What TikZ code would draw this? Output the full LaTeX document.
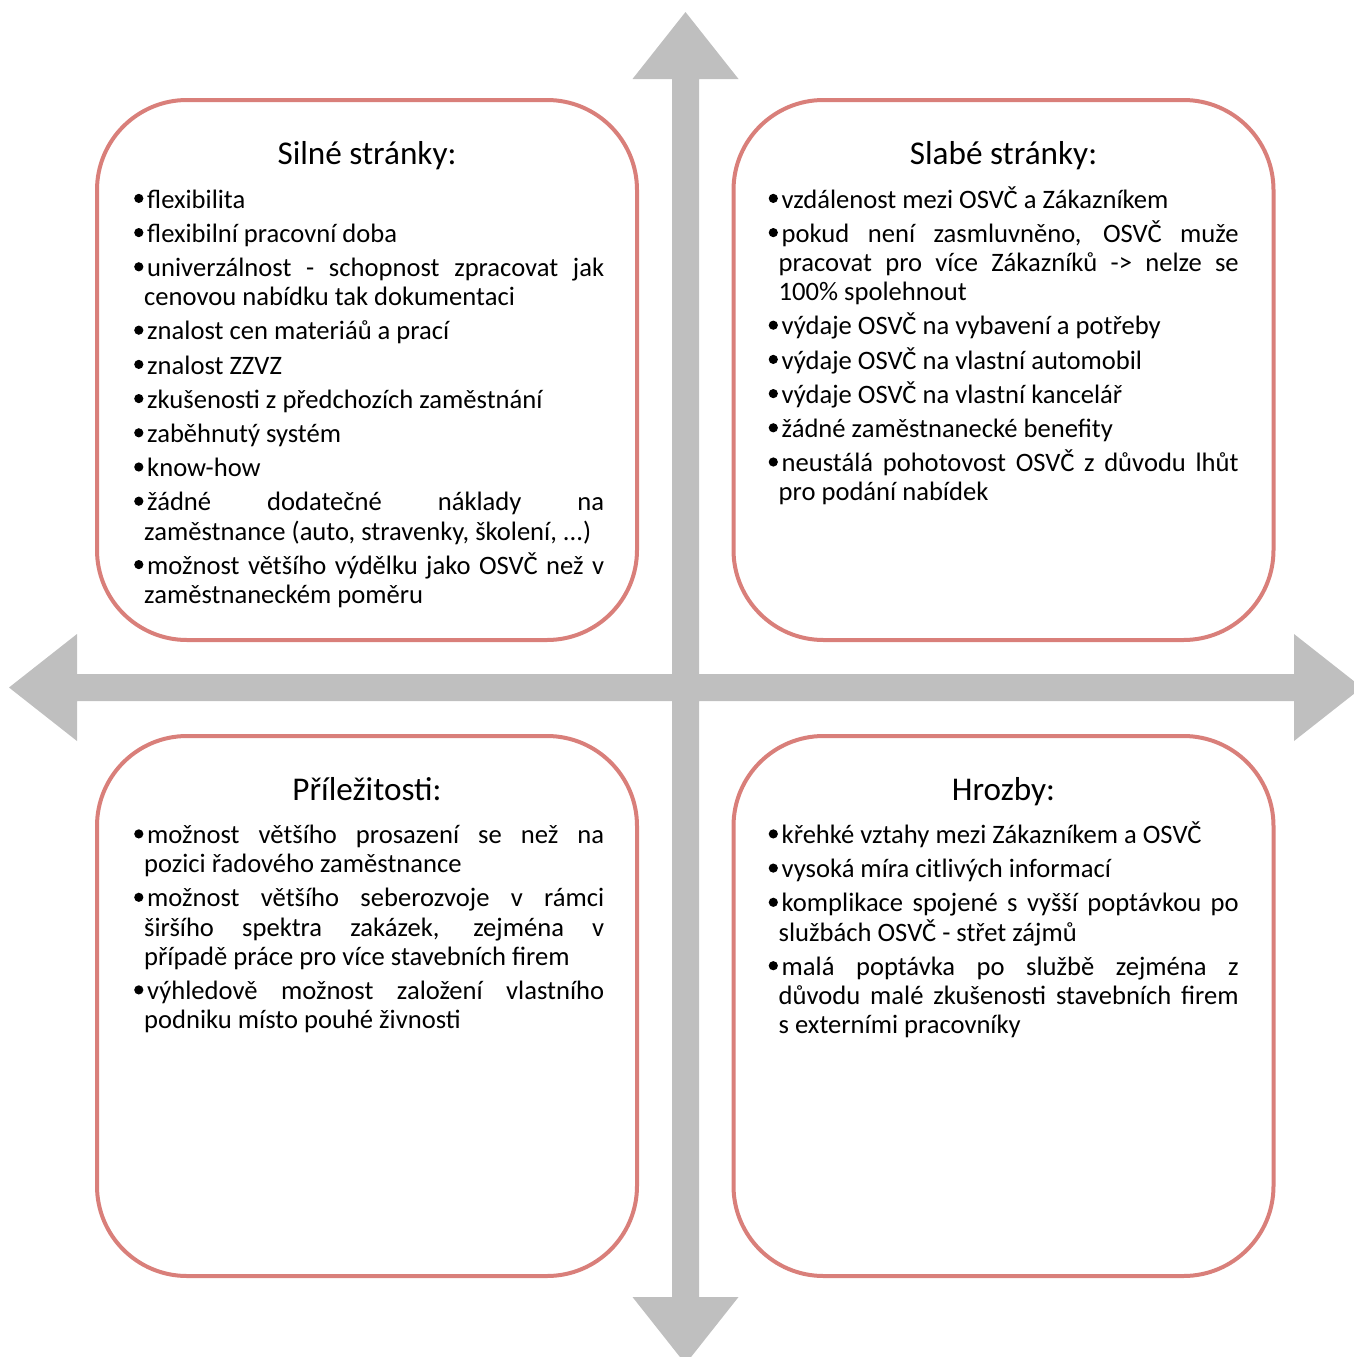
\documentclass[tikz,border=0pt]{standalone}
\usepackage{fontspec}
\setmainfont{Carlito}
\definecolor{boxred}{RGB}{217,127,122}
\definecolor{arrgray}{RGB}{191,191,191}
\newcommand\bdot{\tikz[baseline=0pt]\fill[black] (4.6pt,9.6pt) circle[radius=4.6pt];}
\newcommand\bul{\hangindent=14pt\hangafter=1\relax\makebox[17pt][l]{\hspace{4pt}\bdot}}
\newcommand\bodysetup{\hyphenpenalty=10000\exhyphenpenalty=10000\tolerance=10000\parskip=5pt plus 0pt minus 0pt\relax}
\begin{document}
\begin{tikzpicture}[x=1pt,y=-1pt,
  quad/.style={draw=boxred, line width=4pt, fill=white, rounded corners=90pt,
    minimum width=540pt, minimum height=540pt, inner sep=0pt},
  ttl/.style={font=\fontsize{33.2}{40}\selectfont, anchor=base, inner sep=0pt},
  body/.style={font=\fontsize{26.6}{29.2}\selectfont, anchor=base west, inner sep=0pt,
    text width=474pt, align=justify}]
\useasboundingbox (0,0) rectangle (1353,1357);
% cross of arrows
\fill[arrgray] (685.5,12) -- (738.5,79) -- (699,79) -- (699,674) -- (1294,674) -- (1294,634)
  -- (1362,687.5) -- (1294,741) -- (1294,701) -- (699,701) -- (699,1297) -- (738.5,1297)
  -- (685.5,1364) -- (632.5,1297) -- (672,1297) -- (672,701) -- (77,701) -- (77,741)
  -- (9,687.5) -- (77,634) -- (77,674) -- (672,674) -- (672,79) -- (632.5,79) -- cycle;
% boxes
\node[quad] (tl) at (367,370) {};
\node[quad] (tr) at (1003.5,370) {};
\node[quad] (bl) at (367,1006) {};
\node[quad] (br) at (1003.5,1006) {};
% titles
\node[ttl] (tlt) at (367,164) {Silné stránky:};
\node[ttl] (trt) at (1003.5,164) {Slabé stránky:};
\node[ttl] (blt) at (367,800) {Příležitosti:};
\node[ttl] (brt) at (1003.5,800) {Hrozby:};
% bodies
\node[body] (tlb) at (130,208) {\bodysetup
\bul flexibilita\par
\bul flexibilní pracovní doba\par
\bul univerzálnost - schopnost zpracovat jak\linebreak cenovou nabídku tak dokumentaci\par
\bul znalost cen materiáů a prací\par
\bul znalost ZZVZ\par
\bul zkušenosti z předchozích zaměstnání\par
\bul zaběhnutý systém\par
\bul know-how\par
\bul žádné dodatečné náklady na\linebreak zaměstnance (auto, stravenky, školení, ...)\par
\bul možnost většího výdělku jako OSVČ než v\linebreak zaměstnaneckém poměru\par};
\node[body] (trb) at (764.5,208) {\bodysetup
\bul vzdálenost mezi OSVČ a Zákazníkem\par
\bul pokud není zasmluvněno, OSVČ muže\linebreak pracovat pro více Zákazníků -> nelze se\linebreak 100\% spolehnout\par
\bul výdaje OSVČ na vybavení a potřeby\par
\bul výdaje OSVČ na vlastní automobil\par
\bul výdaje OSVČ na vlastní kancelář\par
\bul žádné zaměstnanecké benefity\par
\bul neustálá pohotovost OSVČ z důvodu lhůt\linebreak pro podání nabídek\par};
\node[body] (blb) at (130,843.5) {\bodysetup
\bul možnost většího prosazení se než na\linebreak pozici řadového zaměstnance\par
\bul možnost většího seberozvoje v rámci\linebreak širšího spektra zakázek, zejména v\linebreak případě práce pro více stavebních firem\par
\bul výhledově možnost založení vlastního\linebreak podniku místo pouhé živnosti\par};
\node[body] (brb) at (764.5,843.5) {\bodysetup
\bul křehké vztahy mezi Zákazníkem a OSVČ\par
\bul vysoká míra citlivých informací\par
\bul komplikace spojené s vyšší poptávkou po\linebreak službách OSVČ - střet zájmů\par
\bul malá poptávka po službě zejména z\linebreak důvodu malé zkušenosti stavebních firem\linebreak s externími pracovníky\par};
\end{tikzpicture}
\end{document}
